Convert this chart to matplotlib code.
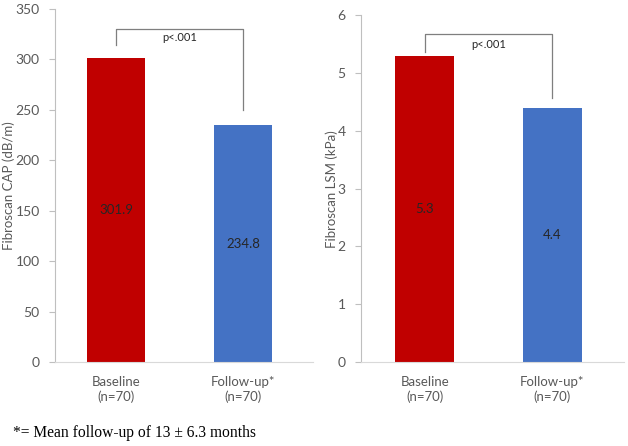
import matplotlib
matplotlib.use("Agg")
import matplotlib.pyplot as plt

categories = ["Baseline\n(n=70)", "Follow-up*\n(n=70)"]
cap_values = [301.9, 234.8]
lsm_values = [5.3, 4.4]
cap_labels = ["301.9", "234.8"]
lsm_labels = ["5.3", "4.4"]
colors = ["#C00000", "#4472C4"]
cap_ticks = [0, 50, 100, 150, 200, 250, 300, 350]
lsm_ticks = [0, 1, 2, 3, 4, 5, 6]
p_text = "p<.001"
footnote = "*= Mean follow-up of 13 \u00b1 6.3 months"

plt.rcParams['font.family'] = ['Lato', 'DejaVu Sans']
fig = plt.figure(figsize=(6.28, 4.46), dpi=100)

tick_color = "#595959"
spine_color = "#BFBFBF"

def setup(ax, values, labels, ticks, ylabel, ymax, bracket):
    x = list(range(len(values)))
    ax.bar(x, values, width=0.46, color=colors, zorder=2)
    for xi, v, lab in zip(x, values, labels):
        ax.text(xi, v / 2, lab, ha='center', va='center', fontsize=9.5, color="#262626")
    ax.set_ylim(0, ymax)
    ax.set_yticks(ticks)
    ax.set_xticks(x)
    ax.set_xticklabels(categories, fontsize=9.5, color=tick_color, linespacing=1.25)
    ax.tick_params(axis='y', labelsize=10, colors=tick_color, length=4, width=0.8, color=spine_color, pad=7)
    ax.tick_params(axis='x', length=0, pad=10)
    for s in ['top', 'right']:
        ax.spines[s].set_visible(False)
    ax.spines['left'].set_color(spine_color)
    ax.spines['bottom'].set_color("#D9D9D9")
    ax.set_ylabel(ylabel, fontsize=9.5, color=tick_color, labelpad=0)
    ytop, yl, yr, ytext = bracket
    ax.plot([0, 0, 1, 1], [yl, ytop, ytop, yr], color="#7F7F7F", lw=0.9, zorder=3)
    ax.text(0.5, ytext, p_text, ha='center', va='center', fontsize=8, color="#262626")

ax1 = fig.add_axes([0.0876, 0.1883, 0.4108, 0.7915])
setup(ax1, cap_values, cap_labels, cap_ticks, "Fibroscan CAP (dB/m)", 350, (330, 314, 250, 322))
ax1.set_xlim(-0.48, 1.55)

ax2 = fig.add_axes([0.5748, 0.1883, 0.4188, 0.7775])
setup(ax2, lsm_values, lsm_labels, lsm_ticks, "Fibroscan LSM (kPa)", 6, (5.67, 5.36, 4.57, 5.5))
ax2.set_xlim(-0.5, 1.56)

fig.text(0.02, 0.02, footnote, fontsize=11.2, family=['Liberation Serif', 'DejaVu Serif'], color="#000000")

fig.savefig("out.png", dpi=100)
